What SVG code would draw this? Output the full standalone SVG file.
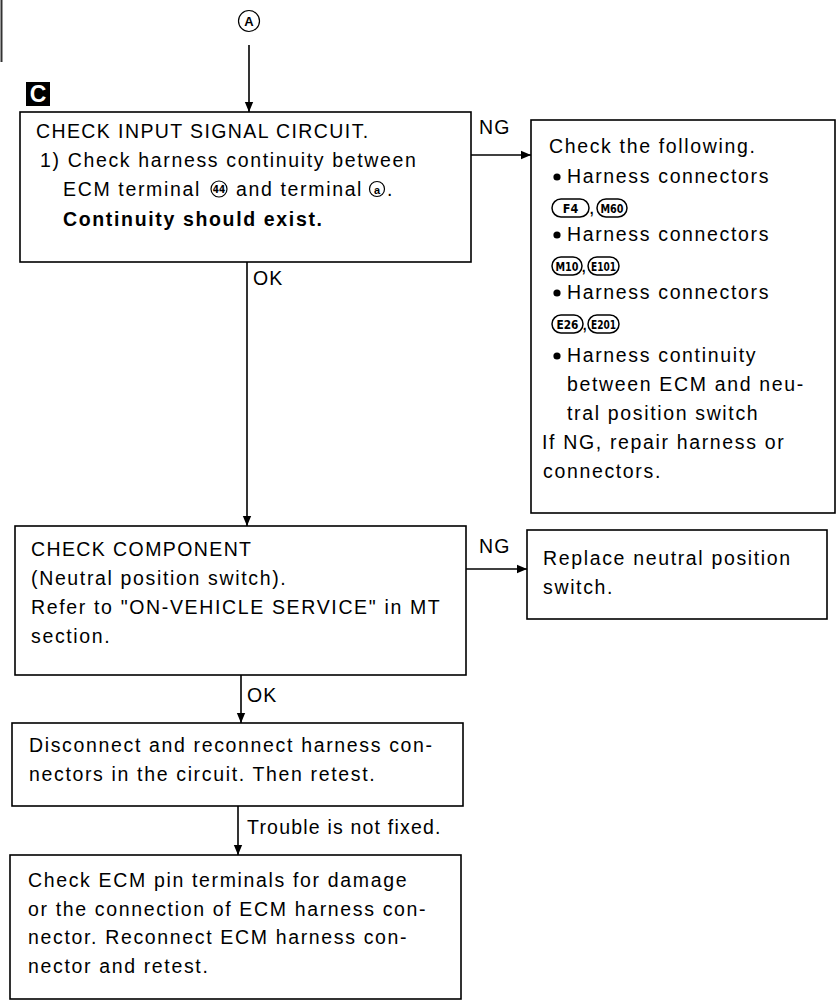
<svg xmlns="http://www.w3.org/2000/svg" width="839" height="1003" viewBox="0 0 839 1003">
<defs>
<marker id="ah" markerUnits="userSpaceOnUse" markerWidth="10" markerHeight="14" refX="12" refY="5" orient="auto" viewBox="0 0 12 10">
<path d="M0,0 L12,5 L0,10 Z" fill="#000"/>
</marker>
</defs>
<style>
.box{fill:#fff;stroke:#000;stroke-width:1.6}
.t{font-family:"Liberation Sans",Arial,sans-serif;font-size:19.5px;letter-spacing:1.65px;fill:#000}
.u{letter-spacing:1.4px}
.b{font-weight:bold}
.lbl{font-family:"Liberation Sans",Arial,sans-serif;font-size:19.5px;letter-spacing:1.2px;fill:#000}
.conn{stroke:#000;stroke-width:1.6;fill:none}
.pill{fill:#fff;stroke:#000;stroke-width:1.5}
.pt{font-family:"DejaVu Sans Condensed","Liberation Sans",sans-serif;font-weight:bold;font-size:12.5px;fill:#000;text-anchor:middle}
.circ{fill:#fff;stroke:#000;stroke-width:1.2}
</style>
<rect width="839" height="1003" fill="#fff"/>
<line x1="1.5" y1="0" x2="1.5" y2="62" stroke="#333" stroke-width="2"/>

<g id="startA">
<circle cx="249" cy="21" r="10.5" class="circ"/>
<text x="249" y="26" font-family="Liberation Sans,Arial,sans-serif" font-weight="bold" font-size="13" text-anchor="middle">A</text>
</g>

<g id="markerC">
<rect x="26" y="82" width="24" height="24" fill="#000"/>
<text x="38" y="102" font-family="Liberation Sans,Arial,sans-serif" font-weight="bold" font-size="23" fill="#fff" text-anchor="middle">C</text>
</g>

<g id="connectors">
<line class="conn" x1="249" y1="45" x2="249" y2="112" marker-end="url(#ah)"/>
<line class="conn" x1="471" y1="155" x2="531" y2="155" marker-end="url(#ah)"/>
<line class="conn" x1="247" y1="262" x2="247" y2="526" marker-end="url(#ah)"/>
<line class="conn" x1="466" y1="569" x2="527" y2="569" marker-end="url(#ah)"/>
<line class="conn" x1="241" y1="675" x2="241" y2="723" marker-end="url(#ah)"/>
<line class="conn" x1="238" y1="806" x2="238" y2="855" marker-end="url(#ah)"/>
<text class="lbl" x="479" y="134">NG</text>
<text class="lbl" x="253" y="285">OK</text>
<text class="lbl" x="479" y="553">NG</text>
<text class="lbl" x="247" y="702">OK</text>
<text class="lbl" x="247" y="834">Trouble is not fixed.</text>
</g>

<g id="box1">
<rect class="box" x="20" y="112" width="451" height="150"/>
<text class="t u" x="36" y="138">CHECK INPUT SIGNAL CIRCUIT.</text>
<text class="t" x="40" y="167">1) Check harness continuity between</text>
<text class="t" x="63" y="196">ECM terminal</text>
<circle class="circ" cx="219" cy="189" r="8"/>
<text x="219" y="193" font-family="DejaVu Sans Condensed,Liberation Sans,sans-serif" font-weight="bold" font-size="10" text-anchor="middle">44</text>
<text class="t" x="236" y="196">and terminal</text>
<circle class="circ" cx="377" cy="189" r="7.5"/>
<text x="377" y="193.5" font-family="Liberation Sans,Arial,sans-serif" font-weight="bold" font-size="11" text-anchor="middle">a</text>
<text class="t" x="387" y="196">.</text>
<text class="t b" x="63" y="226">Continuity should exist.</text>
</g>

<g id="box1ng">
<rect class="box" x="531" y="120" width="304" height="393"/>
<text class="t" x="549" y="153">Check the following.</text>
<circle cx="557" cy="177" r="3.6" fill="#000"/>
<text class="t" x="567" y="183">Harness connectors</text>
<rect class="pill" x="552" y="199" width="37" height="18" rx="9"/>
<text class="pt" x="570.5" y="212.5">F4</text>
<text class="t" x="589" y="214">,</text>
<rect class="pill" x="597" y="199" width="30" height="18" rx="9"/>
<text class="pt" x="612" y="212.5" textLength="23" lengthAdjust="spacingAndGlyphs">M60</text>
<circle cx="557" cy="235" r="3.6" fill="#000"/>
<text class="t" x="567" y="241">Harness connectors</text>
<rect class="pill" x="552" y="257" width="30" height="18" rx="9"/>
<text class="pt" x="567" y="270.5" textLength="23" lengthAdjust="spacingAndGlyphs">M10</text>
<text class="t" x="581" y="272">,</text>
<rect class="pill" x="588" y="257" width="31" height="18" rx="9"/>
<text class="pt" x="603.5" y="270.5" textLength="25" lengthAdjust="spacingAndGlyphs">E101</text>
<circle cx="557" cy="293" r="3.6" fill="#000"/>
<text class="t" x="567" y="299">Harness connectors</text>
<rect class="pill" x="552" y="315" width="31" height="18" rx="9"/>
<text class="pt" x="567.5" y="328.5" textLength="22" lengthAdjust="spacingAndGlyphs">E26</text>
<text class="t" x="582" y="330">,</text>
<rect class="pill" x="588" y="315" width="31" height="18" rx="9"/>
<text class="pt" x="603.5" y="328.5" textLength="25" lengthAdjust="spacingAndGlyphs">E201</text>
<circle cx="557" cy="356" r="3.6" fill="#000"/>
<text class="t" x="567" y="362">Harness continuity</text>
<text class="t" x="567" y="391">between ECM and neu-</text>
<text class="t" x="567" y="420">tral position switch</text>
<text class="t" x="542" y="449">If NG, repair harness or</text>
<text class="t" x="543" y="478">connectors.</text>
</g>

<g id="box2">
<rect class="box" x="15" y="526" width="451" height="149"/>
<text class="t u" x="31" y="556">CHECK COMPONENT</text>
<text class="t" x="31" y="585">(Neutral position switch).</text>
<text class="t" x="31" y="614">Refer to "ON-VEHICLE SERVICE" in MT</text>
<text class="t" x="31" y="643">section.</text>
</g>

<g id="box2ng">
<rect class="box" x="527" y="530" width="300" height="89"/>
<text class="t" x="543" y="565">Replace neutral position</text>
<text class="t" x="543" y="594">switch.</text>
</g>

<g id="box3">
<rect class="box" x="12" y="723" width="451" height="83"/>
<text class="t" x="29" y="752">Disconnect and reconnect harness con-</text>
<text class="t" x="29" y="781">nectors in the circuit. Then retest.</text>
</g>

<g id="box4">
<rect class="box" x="10" y="855" width="451" height="144"/>
<text class="t" x="28" y="887">Check ECM pin terminals for damage</text>
<text class="t" x="28" y="916">or the connection of ECM harness con-</text>
<text class="t" x="28" y="944">nector. Reconnect ECM harness con-</text>
<text class="t" x="28" y="973">nector and retest.</text>
</g>
</svg>
